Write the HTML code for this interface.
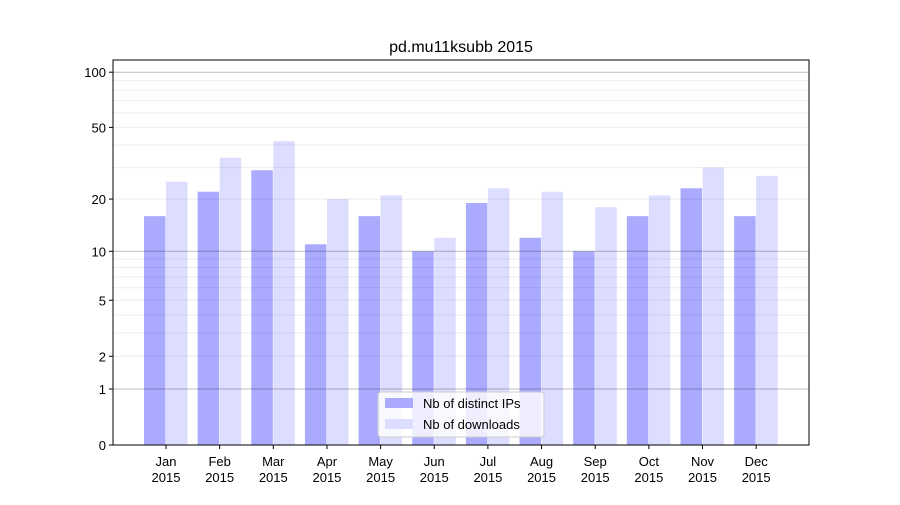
<!DOCTYPE html>
<html><head><meta charset="utf-8"><style>
body{margin:0;background:#fff;}
svg text{font-family:"Liberation Sans","DejaVu Sans",sans-serif;}
</style></head><body>
<svg id="c" width="900" height="500" xmlns="http://www.w3.org/2000/svg">
<rect width="900" height="500" fill="#fff"/>
<text x="461" y="52" font-size="16" text-anchor="middle">pd.mu11ksubb 2015</text>
<g id="bars"></g><g id="grid"></g><g id="axes"></g>
</svg>
<script>
const months=["Jan","Feb","Mar","Apr","May","Jun","Jul","Aug","Sep","Oct","Nov","Dec"];
const ips=[16,22,29,11,16,10,19,12,10,16,23,16];
const downloads=[25,34,42,20,21,12,23,22,18,21,30,27];
const yTicks=[0,1,2,5,10,20,50,100];
const NS="http://www.w3.org/2000/svg";
const L=113,R=809,T=60,B=445;
function y(v){return B-186*Math.log10(v+1);}
function x(i){return 166+i*53.65;}
function mk(t,a,p){const e=document.createElementNS(NS,t);for(const k in a)e.setAttribute(k,a[k]);p.appendChild(e);return e;}
const grid=document.getElementById('grid'),bars=document.getElementById('bars'),axes=document.getElementById('axes');
for(let d=1;d<=100;d*=10){for(let m=1;m<10;m++){const v=m*d;if(v>110)break;const yy=y(v);if(yy<T)break;
const g=mk('line',{x1:L,x2:R,y1:yy,y2:yy,stroke:(m==1)?'rgba(0,0,0,0.25)':'rgba(0,0,0,0.07)','stroke-width':1},grid);
}}
months.forEach((mo,i)=>{
const cx=x(i);
const b1=mk('rect',{x:cx-22,y:y(ips[i]),width:21.5,height:B-y(ips[i]),fill:'#aaaaff'},bars);

const b2=mk('rect',{x:cx,y:y(downloads[i]),width:21.5,height:B-y(downloads[i]),fill:'#ddddff'},bars);

mk('line',{x1:cx,x2:cx,y1:B,y2:B+4,stroke:'#000'},axes);
const t=mk('text',{x:cx,y:B+21,'font-size':13,'text-anchor':'middle'},axes);t.textContent=mo;

const t2=mk('text',{x:cx,y:B+37,'font-size':13,'text-anchor':'middle'},axes);t2.textContent='2015';

});
yTicks.forEach(v=>{const yy=y(v);mk('line',{x1:L-4,x2:L,y1:yy,y2:yy,stroke:'#000'},axes);
const t=mk('text',{x:L-7,y:yy+5,'font-size':13,'text-anchor':'end'},axes);t.textContent=v;
});
const fr=mk('rect',{x:L,y:T,width:R-L,height:B-T,fill:'none',stroke:'#000','stroke-width':1},axes);

const lg=mk('g',{},axes);
mk('rect',{x:378,y:392,width:166,height:45,rx:3,fill:'#fff','fill-opacity':0.8,stroke:'#ccc'},lg);
mk('rect',{x:385,y:398,width:28,height:10,fill:'#aaaaff'},lg);
mk('rect',{x:385,y:419,width:28,height:10,fill:'#ddddff'},lg);
const l1=mk('text',{x:423,y:408,'font-size':13},lg);l1.textContent='Nb of distinct IPs';

const l2=mk('text',{x:423,y:429,'font-size':13},lg);l2.textContent='Nb of downloads';

</script>
</body></html>
